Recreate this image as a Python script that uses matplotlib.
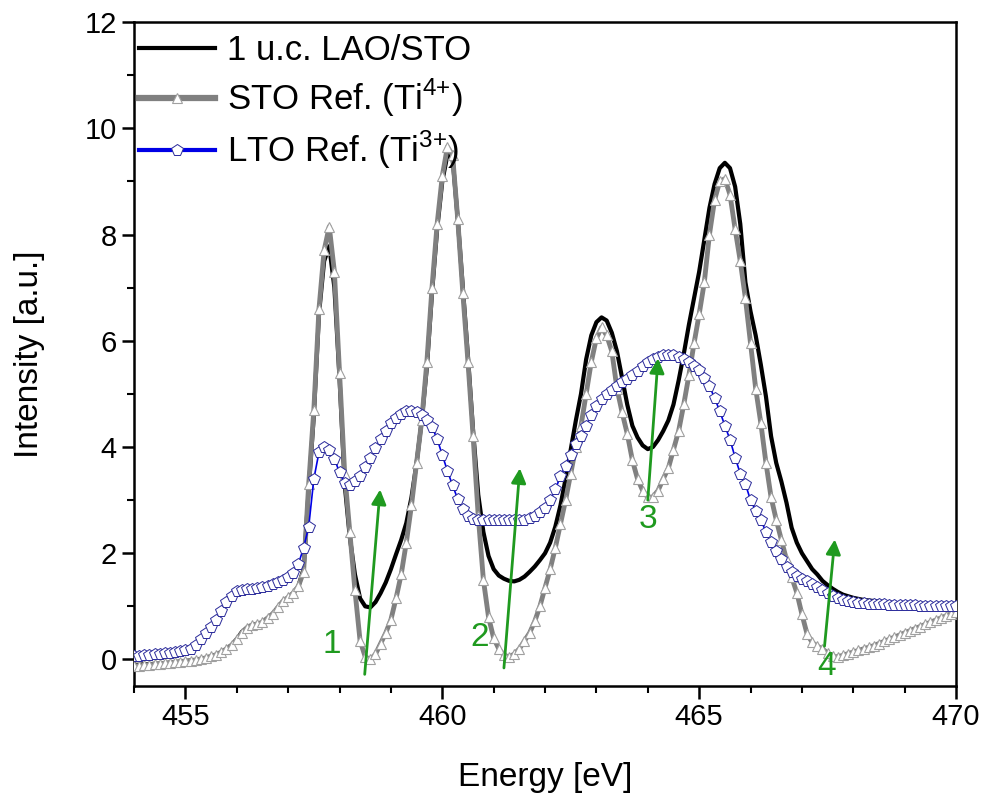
"""
Ti L-edge XAS of a 1 u.c. LAO/STO sample compared with STO (Ti4+) and
LTO (Ti3+) reference spectra.
"""

import matplotlib
matplotlib.use("Agg")
import matplotlib.pyplot as plt
import numpy as np

plt.rcParams['font.family'] = ['Liberation Sans', 'DejaVu Sans']
plt.rcParams['mathtext.fontset'] = 'custom'
plt.rcParams['mathtext.rm'] = 'Liberation Sans'

# Photon energy grid [eV], 0.1 eV steps
energy = np.round(np.arange(454.0, 470.05, 0.1), 1)

# 1 u.c. LAO/STO
lao_sto = [
    -0.10, -0.10, -0.09, -0.09, -0.08, -0.08, -0.07, -0.06, -0.05, -0.04,  # 454
    -0.03, -0.02, -0.01, 0.01, 0.03, 0.06, 0.09, 0.14, 0.20, 0.27,        # 455
    0.38, 0.52, 0.60, 0.65, 0.67, 0.70, 0.78, 0.86, 0.98, 1.08,           # 456
    1.16, 1.25, 1.38, 1.70, 3.20, 4.60, 6.50, 7.50, 7.78, 7.00,           # 457
    5.30, 3.30, 2.30, 1.60, 1.15, 1.00, 0.98, 1.08, 1.25, 1.45,           # 458
    1.70, 1.98, 2.25, 2.57, 3.05, 3.70, 4.50, 5.50, 6.90, 8.10,           # 459
    9.00, 9.50, 9.45, 8.30, 7.00, 5.70, 4.30, 3.10, 2.40, 1.95,           # 460
    1.70, 1.58, 1.52, 1.48, 1.47, 1.50, 1.56, 1.65, 1.75, 1.87,           # 461
    2.00, 2.20, 2.50, 2.90, 3.40, 3.95, 4.50, 5.00, 5.65, 6.10,           # 462
    6.35, 6.44, 6.38, 6.15, 5.80, 5.30, 4.80, 4.40, 4.18, 4.03,           # 463
    3.96, 4.00, 4.13, 4.30, 4.50, 4.80, 5.25, 5.75, 6.30, 6.80,           # 464
    7.30, 7.90, 8.50, 8.95, 9.25, 9.35, 9.25, 8.90, 8.20, 7.10,           # 465
    6.55, 6.10, 5.55, 4.95, 4.20, 3.70, 3.35, 2.95, 2.48, 2.20,           # 466
    2.00, 1.85, 1.70, 1.60, 1.48, 1.40, 1.33, 1.27, 1.22, 1.19,           # 467
    1.16, 1.14, 1.12, 1.11, 1.10, 1.09, 1.08, 1.07, 1.06, 1.06,           # 468
    1.05, 1.05, 1.04, 1.04, 1.03, 1.03, 1.02, 1.02, 1.01, 1.01,           # 469
    1.00,                                                                 # 470
]

# SrTiO3 reference (Ti4+)
sto_ref = [
    -0.12, -0.12, -0.11, -0.10, -0.09, -0.08, -0.07, -0.06, -0.05, -0.04,  # 454
    -0.03, -0.02, -0.01, 0.01, 0.03, 0.06, 0.09, 0.14, 0.20, 0.27,        # 455
    0.38, 0.50, 0.60, 0.65, 0.67, 0.70, 0.78, 0.86, 0.98, 1.10,           # 456
    1.17, 1.25, 1.38, 1.65, 3.30, 4.70, 6.60, 7.70, 8.15, 7.30,           # 457
    5.40, 3.50, 2.40, 1.30, 0.35, 0.05, 0.00, 0.10, 0.30, 0.50,           # 458
    0.75, 1.15, 1.60, 2.20, 2.90, 3.70, 4.50, 5.60, 7.00, 8.20,           # 459
    9.10, 9.65, 9.50, 8.30, 6.90, 5.60, 4.20, 2.70, 1.50, 0.80,           # 460
    0.40, 0.20, 0.08, 0.05, 0.10, 0.20, 0.35, 0.50, 0.72, 1.00,           # 461
    1.35, 1.70, 2.10, 2.55, 3.00, 3.50, 4.00, 4.40, 5.00, 5.60,           # 462
    6.05, 6.25, 6.10, 5.80, 5.10, 4.65, 4.25, 3.75, 3.40, 3.18,           # 463
    3.05, 3.06, 3.18, 3.40, 3.60, 3.95, 4.30, 4.80, 5.35, 5.95,           # 464
    6.50, 7.10, 8.00, 8.65, 9.00, 9.05, 8.75, 8.10, 7.50, 6.80,           # 465
    5.95, 5.10, 4.45, 3.70, 3.05, 2.63, 2.25, 1.88, 1.55, 1.26,           # 466
    0.85, 0.48, 0.32, 0.25, 0.20, 0.12, 0.06, 0.05, 0.08, 0.11,           # 467
    0.14, 0.17, 0.20, 0.23, 0.26, 0.30, 0.34, 0.38, 0.42, 0.46,           # 468
    0.50, 0.54, 0.58, 0.62, 0.66, 0.70, 0.74, 0.78, 0.82, 0.86,           # 469
    0.90,                                                                 # 470
]

# LaTiO3 reference (Ti3+)
lto_ref = [
    0.06, 0.07, 0.08, 0.09, 0.10, 0.11, 0.12, 0.13, 0.14, 0.15,  # 454
    0.17, 0.20, 0.27, 0.38, 0.50, 0.62, 0.75, 0.92, 1.08, 1.20,  # 455
    1.28, 1.31, 1.32, 1.33, 1.35, 1.37, 1.39, 1.42, 1.46, 1.50,  # 456
    1.56, 1.63, 1.80, 2.10, 2.50, 3.40, 3.90, 4.00, 3.95, 3.78,  # 457
    3.52, 3.32, 3.28, 3.36, 3.46, 3.63, 3.80, 3.98, 4.15, 4.30,  # 458
    4.45, 4.55, 4.62, 4.67, 4.68, 4.66, 4.60, 4.50, 4.38, 4.15,  # 459
    3.85, 3.55, 3.28, 3.02, 2.83, 2.70, 2.64, 2.62, 2.62, 2.62,  # 460
    2.62, 2.62, 2.62, 2.62, 2.62, 2.62, 2.63, 2.66, 2.70, 2.77,  # 461
    2.86, 3.00, 3.20, 3.45, 3.65, 3.85, 4.05, 4.20, 4.40, 4.60,  # 462
    4.78, 4.90, 5.00, 5.08, 5.15, 5.22, 5.28, 5.36, 5.44, 5.52,  # 463
    5.60, 5.65, 5.70, 5.73, 5.74, 5.73, 5.70, 5.66, 5.60, 5.53,  # 464
    5.45, 5.30, 5.15, 4.92, 4.68, 4.40, 4.14, 3.80, 3.50, 3.30,  # 465
    3.00, 2.80, 2.63, 2.40, 2.22, 2.05, 1.90, 1.75, 1.65, 1.58,  # 466
    1.52, 1.48, 1.42, 1.36, 1.30, 1.25, 1.20, 1.16, 1.12, 1.10,  # 467
    1.08, 1.07, 1.06, 1.05, 1.05, 1.04, 1.04, 1.03, 1.03, 1.03,  # 468
    1.02, 1.02, 1.02, 1.01, 1.01, 1.01, 1.01, 1.00, 1.00, 1.00,  # 469
    1.00,                                                        # 470
]

# Arrows marking the spectral changes
arrow_starts_x = [458.49, 461.20, 464.00, 467.44]
arrow_starts_y = [-0.28, -0.16, 3.00, 0.25]
arrow_ends_x = [458.79, 461.51, 464.20, 467.64]
arrow_ends_y = [3.20, 3.60, 5.67, 2.26]
arrow_labels = ['1', '2', '3', '4']
label_x = [457.85, 460.73, 464.00, 467.48]
label_y = [0.28, 0.41, 2.63, -0.13]

GREEN = '#1f9a1f'


def plot_spectra(save_path='out.png'):
    """Plot the three spectra with the numbered arrows."""
    fig = plt.figure(figsize=(9.84, 7.93), dpi=100)
    ax = fig.add_axes([0.1362, 0.1349, 0.8354, 0.8373])

    ax.plot(energy, lao_sto, color='black', lw=3.0,
            label='1 u.c. LAO/STO', zorder=2)
    ax.plot(energy, sto_ref, color='#808080', lw=3.5, marker='^',
            ms=7.5, mfc='white', mec='#a0a0a0', mew=0.8,
            label=r'STO Ref. (Ti$^{4{+}}$)', zorder=3)
    ax.plot(energy, lto_ref, color='#0000e6', lw=1.2, marker='p',
            ms=8.5, mfc='white', mec='#2a2a9a', mew=0.7,
            label=r'LTO Ref. (Ti$^{3{+}}$)', zorder=4)

    for xs, ys, xe, ye in zip(arrow_starts_x, arrow_starts_y,
                              arrow_ends_x, arrow_ends_y):
        ax.annotate('', xy=(xe, ye), xytext=(xs, ys),
                    arrowprops=dict(arrowstyle='-|>', color=GREEN, lw=2,
                                    mutation_scale=22, shrinkA=0, shrinkB=0),
                    zorder=6)
    for lx, ly, txt in zip(label_x, label_y, arrow_labels):
        ax.text(lx, ly, txt, color=GREEN, fontsize=24, ha='center',
                va='center', zorder=6)

    ax.set_xlim(454, 470)
    ax.set_ylim(-0.5, 12)
    ax.set_xticks([455, 460, 465, 470])
    ax.set_xticks(np.arange(454, 471, 1), minor=True)
    ax.set_yticks(np.arange(0, 13, 2))
    ax.set_yticks(np.arange(1, 12, 2), minor=True)
    ax.tick_params(which='major', length=9, width=1.8, labelsize=21)
    ax.tick_params(which='minor', length=5, width=1.5)
    for spine in ax.spines.values():
        spine.set_linewidth(1.8)

    ax.set_xlabel('Energy [eV]', fontsize=24, labelpad=22)
    ax.set_ylabel('Intensity [a.u.]', fontsize=24, labelpad=28)

    leg = ax.legend(loc='upper left', bbox_to_anchor=(-0.007, 0.997),
                    frameon=False, fontsize=25, numpoints=1,
                    handlelength=2.2, handletextpad=0.35,
                    labelspacing=0.28, borderaxespad=0.1, borderpad=0.2)
    # thicker blue line in the legend key than under the dense markers
    leg.get_lines()[1].set_linewidth(4.5)
    leg.get_lines()[2].set_linewidth(3.0)

    fig.savefig(save_path, dpi=100)


if __name__ == '__main__':
    plot_spectra()
